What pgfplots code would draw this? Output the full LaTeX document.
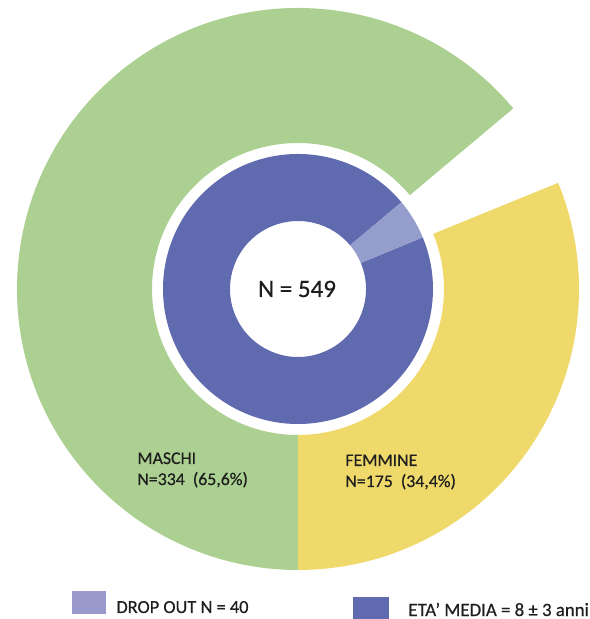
\documentclass[border=0pt]{standalone}
\usepackage{fontspec}
\setmainfont{Carlito}[FakeBold=0.5]
\usepackage{pgfplots}
\pgfplotsset{compat=1.18}
\definecolor{cgreen}{RGB}{171,208,145}
\definecolor{cyellow}{RGB}{240,217,107}
\definecolor{cblue}{RGB}{96,106,174}
\definecolor{clight}{RGB}{149,157,205}
\definecolor{clegl}{RGB}{153,153,204}
\definecolor{ctext}{RGB}{30,30,30}
% ring sector: colour, start angle, end angle, inner radius, outer radius (centre 298,330)
\newcommand{\ring}[5]{%
  \fill[#1] (axis cs:{298+#5*cos(#2)},{330+#5*sin(#2)})
    arc[start angle=#2,end angle=#3,radius=#5]
    -- (axis cs:{298+#4*cos(#3)},{330+#4*sin(#3)})
    arc[start angle=#3,end angle=#2,radius=#4] -- cycle;}
\begin{document}
\begin{tikzpicture}
\begin{axis}[
  scale only axis, width=294.5pt, height=309.5pt,
  xmin=0, xmax=589, ymin=0, ymax=619,
  hide axis, clip=false]
% outer ring: Maschi (334), Femmine (175), gap = drop out (40)
\ring{cgreen}{40}{270}{146}{281}
\ring{cyellow}{-90}{22.2}{146}{281}
% inner ring: eta media (dark), drop out (light)
\ring{cblue}{40}{382.5}{68}{135}
\ring{clight}{22.5}{40}{68}{135}
% labels
\node[anchor=base, font=\fontsize{12.5}{15}\selectfont, text=ctext] at (axis cs:297,322) {N = 549};
\node[anchor=base west, inner sep=0pt, font=\fontsize{8.9}{10}\selectfont, text=ctext] at (axis cs:137,155) {MASCHI};
\node[anchor=base west, inner sep=0pt, font=\fontsize{8.9}{10}\selectfont, text=ctext] at (axis cs:137,134) {N=334\ \ (65,6\%)};
\node[anchor=base west, inner sep=0pt, font=\fontsize{8.9}{10}\selectfont, text=ctext] at (axis cs:345,153) {FEMMINE};
\node[anchor=base west, inner sep=0pt, font=\fontsize{8.9}{10}\selectfont, text=ctext] at (axis cs:345,132) {N=175\ \ (34,4\%)};
% legend
\fill[clegl] (axis cs:72,5) rectangle (axis cs:106,28);
\node[anchor=base west, inner sep=0pt, font=\fontsize{9.2}{10}\selectfont, text=ctext] at (axis cs:116,6) {DROP OUT N = 40};
\fill[cblue] (axis cs:353,0) rectangle (axis cs:389,22);
\node[anchor=base west, inner sep=0pt, font=\fontsize{9.4}{10}\selectfont, text=ctext] at (axis cs:408,3) {ETA’ MEDIA = 8 ± 3 anni};
\end{axis}
\pgfresetboundingbox
\useasboundingbox (current axis.south west) rectangle (current axis.north east);
\end{tikzpicture}
\end{document}
